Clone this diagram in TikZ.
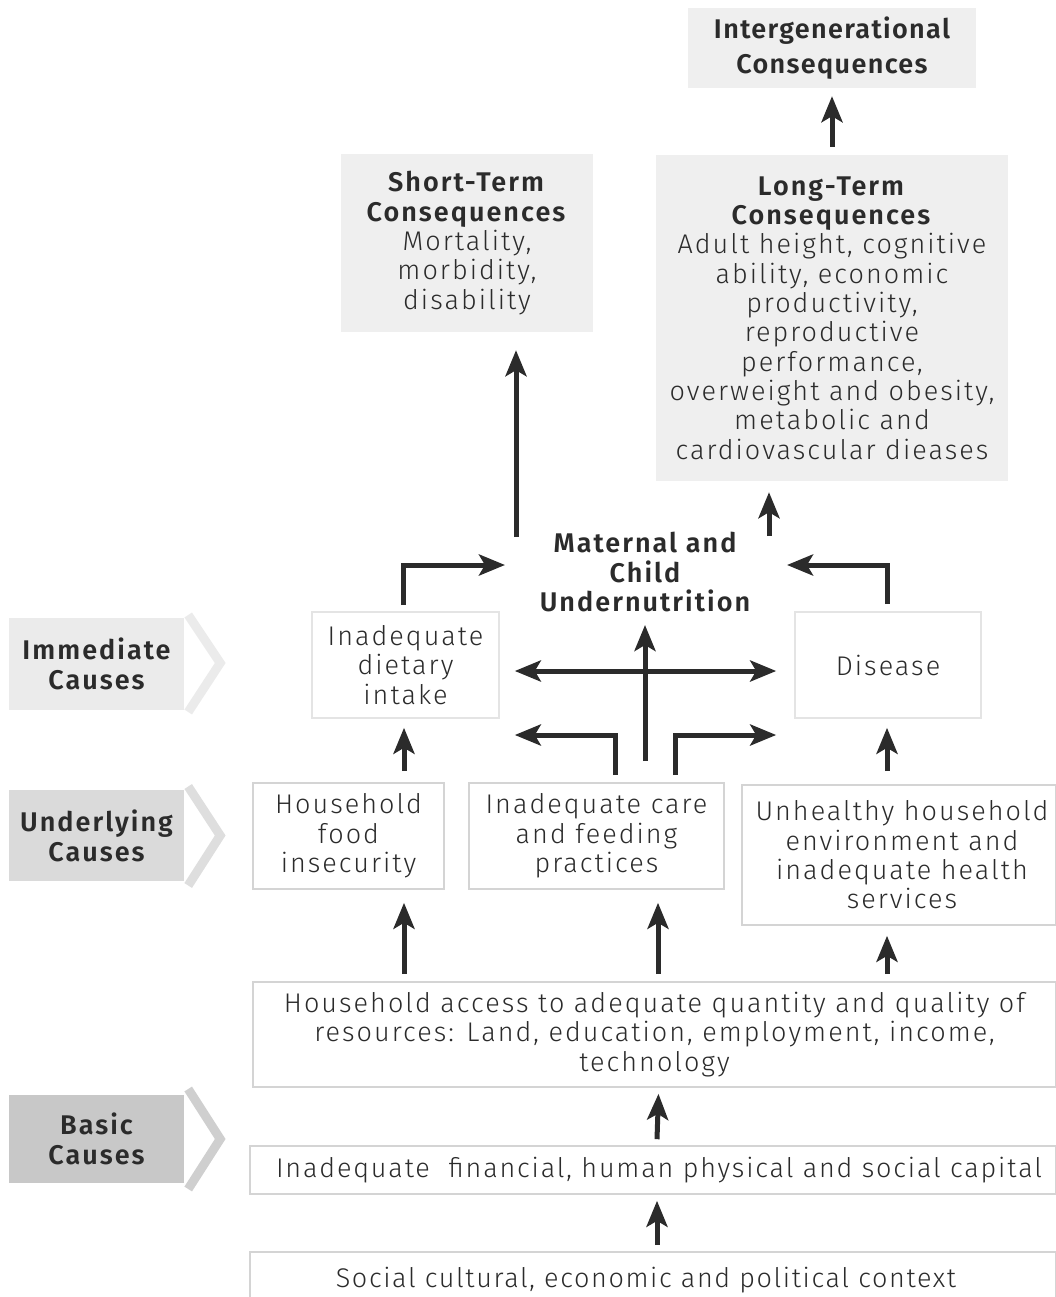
\documentclass[tikz,border=0pt]{standalone}
\usepackage{fontspec}
\setmainfont{Fira Sans Light}[LetterSpace=7.5,BoldFont={Fira Sans SemiBold}]
\newfontfamily\lessspaced{Fira Sans Light}[LetterSpace=6,BoldFont={Fira Sans SemiBold}]
\newfontfamily\finfam{Fira Sans Light}[LetterSpace=6.8]
\newfontfamily\titlefam{Fira Sans SemiBold}[LetterSpace=5]
\usetikzlibrary{arrows.meta,calc}
\definecolor{ink}{HTML}{2B2B2B}
\definecolor{boxline}{HTML}{D4D4D4}
\definecolor{boxlinelt}{HTML}{E4E4E4}
\definecolor{consfill}{HTML}{EFEFEF}
\definecolor{immfill}{HTML}{EBEBEB}
\definecolor{undfill}{HTML}{DADADA}
\definecolor{basfill}{HTML}{C8C8C8}
\begin{document}
\begin{tikzpicture}[x=1pt,y=-1pt,
  every node/.style={text=ink, font=\fontsize{27}{29.3}\selectfont},
  cons/.style={fill=consfill, draw=none, align=center, inner sep=0pt},
  cause/.style={draw=boxline, line width=1.6pt, fill=white, align=center, inner sep=0pt},
  causelt/.style={cause, draw=boxlinelt},
  lvl/.style={draw=none, align=center, inner sep=0pt, font=\bfseries\fontsize{27}{30}\selectfont, minimum width=175pt},
  chev/.style={line width=9pt, miter limit=10},
  arr/.style={draw=ink, line width=5pt, -{Stealth[length=26pt,width=21pt,inset=6pt]}},
  darr/.style={draw=ink, line width=5pt, {Stealth[length=26pt,width=21pt,inset=6pt]}-{Stealth[length=26pt,width=21pt,inset=6pt]}}
]
\useasboundingbox (0,0) rectangle (1056,1297);

% consequences
\node[cons, minimum width=288pt, minimum height=80pt, font=\titlefam\fontsize{27}{34.5}\selectfont] (intg) at (832,48) {Intergenerational\\Consequences};
\node[cons, minimum width=252pt, minimum height=178pt] (st) at (467,243)
 {\textbf{Short-Term}\\\textbf{Consequences}\\Mortality,\\morbidity,\\disability};
\node[cons, minimum width=352pt, minimum height=326pt] (lt) at (832,318)
 {\textbf{Long-Term}\\\textbf{Consequences}\\Adult height, cognitive\\ability, economic\\productivity,\\reproductive\\performance,\\overweight and obesity,\\metabolic and\\cardiovascular dieases};

% central
\node[align=center, inner sep=0pt, font=\bfseries\fontsize{27}{29.5}\selectfont] (mcu) at (645,572) {Maternal and\\Child\\Undernutrition};

% immediate
\node[causelt, minimum width=187pt, minimum height=106pt] (diet) at (405.5,665) {Inadequate\\dietary\\intake};
\node[causelt, minimum width=186pt, minimum height=106pt] (dis) at (888,665) {Disease};

% underlying
\node[cause, minimum width=191pt, minimum height=106pt] (food) at (348.5,836) {Household\\food\\insecurity};
\node[cause, minimum width=255pt, minimum height=106pt] (care) at (596.5,836) {Inadequate care\\and feeding\\practices};
\node[cause, minimum width=314pt, minimum height=140pt] (unh) at (899,855) {\hspace*{6pt}Unhealthy household\\\hspace*{6pt}environment and\\\hspace*{6pt}inadequate health\\\hspace*{6pt}services};

% basic
\node[cause, minimum width=803pt, minimum height=105pt] (acc) at (654.5,1034.5) {Household access to adequate quantity and quality of\\resources: Land, education, employment, income,\\technology};
\node[cause, minimum width=806pt, minimum height=48pt, font=\finfam\fontsize{27}{30}\selectfont] (fin) at (653,1170) {\hspace*{12pt}Inadequate\ \ financial, human physical and social capital};
\node[cause, minimum width=806pt, minimum height=56pt, font=\lessspaced\fontsize{27}{30}\selectfont] (soc) at (653,1280) {\raisebox{3pt}{Social cultural, economic and political context}\hspace*{14pt}};

% level labels
\node[lvl, fill=immfill, minimum height=92pt] (imm) at (96.5,664) {Immediate\\Causes};
\node[lvl, fill=undfill, minimum height=91pt] (und) at (96.5,835.5) {Underlying\\Causes};
\node[lvl, fill=basfill, minimum height=88pt] (bas) at (96.5,1139) {Basic\\Causes};
\draw[chev, draw=black!8] ([shift={(4,-49)}]imm.east) -- ([shift={(36,-1)}]imm.east) -- ([shift={(4,48)}]imm.east);
\draw[chev, draw=black!13] ([shift={(4,-49)}]und.east) -- ([shift={(36,0)}]und.east) -- ([shift={(4,50)}]und.east);
\draw[chev, draw=black!19] ([shift={(4,-50)}]bas.east) -- ([shift={(36,0)}]bas.east) -- ([shift={(4,50)}]bas.east);

% arrows
\draw[arr] ([yshift=8pt]lt.north) -- ([yshift=-8pt]intg.south);
\draw[arr] ([shift={(49,205)}]st.south) -- ([shift={(49,18)}]st.south);
\draw[arr] ([shift={(-63,55)}]lt.south) -- ([shift={(-63,11)}]lt.south);
\draw[arr] ([shift={(-2,-6)}]diet.north) |- ([shift={(-140,-7)}]mcu.center);
\draw[arr] ([shift={(-1,-7)}]dis.north) |- ([shift={(142,-7)}]mcu.center);
\draw[arr] ([shift={(48.5,-21)}]care.north) -- ([shift={(0,53)}]mcu.center);
\draw[darr] ([shift={(15,6)}]diet.east) -- ([shift={(-18,6)}]dis.west);
\draw[arr] ([shift={(18.5,-7)}]care.north) |- ([shift={(15,70)}]diet.east);
\draw[arr] ([shift={(78.5,-7)}]care.north) |- ([shift={(-18,70)}]dis.west);
\draw[arr] ([shift={(55.5,-11)}]food.north) -- ([shift={(-1.5,9)}]diet.south);
\draw[arr] ([shift={(-12,-13)}]unh.north) -- ([shift={(-1,9)}]dis.south);
\draw[arr] ([shift={(-250.5,-7)}]acc.north) -- ([shift={(55.5,13)}]food.south);
\draw[arr] ([shift={(3.5,-7)}]acc.north) -- ([shift={(61.5,13)}]care.south);
\draw[arr] ([shift={(232.5,-7)}]acc.north) -- ([shift={(-12,10)}]unh.south);
\draw[arr] ([shift={(4,-6)}]fin.north) -- ([shift={(4,6)}]acc.south);
\draw[arr] ([shift={(4,-6)}]soc.north) -- ([shift={(4,6)}]fin.south);
\end{tikzpicture}
\end{document}
